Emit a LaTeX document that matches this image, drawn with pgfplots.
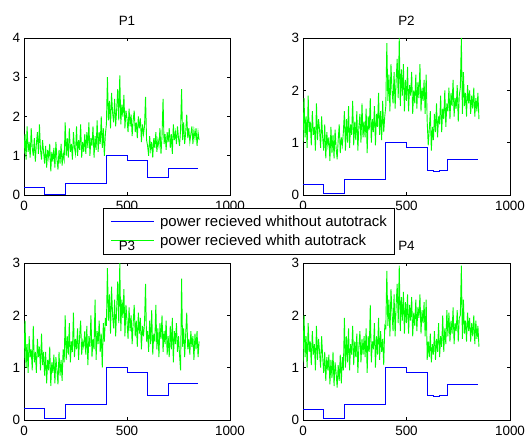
\documentclass[border=0pt]{standalone}
\usepackage{pgfplots}
\pgfplotsset{compat=1.18}
\usepackage{pgfplotstable}
\usepackage{fontspec}
\setmainfont{Liberation Sans}
\definecolor{mgreen}{RGB}{0,255,0}
\definecolor{mblue}{RGB}{0,0,255}

\pgfplotstableread[row sep=\\]{y\\
1.05\\1.55\\0.9\\1.75\\1.1\\1.35\\0.95\\1.7\\1.2\\1.0\\1.45\\0.85\\1.3\\1.6\\1.05\\1.8\\1.15\\0.9\\1.4\\1.1\\
0.8\\1.25\\0.7\\1.15\\0.95\\1.3\\0.6\\1.1\\0.85\\1.2\\0.7\\1.35\\0.9\\0.65\\1.15\\0.8\\1.3\\0.75\\1.05\\0.9\\
1.85\\1.0\\1.45\\0.95\\1.7\\1.1\\1.3\\0.9\\1.6\\1.2\\1.05\\1.75\\1.0\\1.4\\1.15\\1.8\\0.95\\1.35\\1.1\\1.55\\
1.05\\1.6\\1.2\\1.85\\1.0\\1.45\\1.25\\1.75\\0.95\\1.5\\1.15\\1.9\\1.1\\1.6\\1.3\\2.0\\1.2\\1.7\\1.0\\1.55\\
1.8\\3.0\\1.9\\2.4\\1.7\\2.6\\2.1\\1.85\\2.45\\1.75\\2.2\\2.7\\1.9\\3.05\\1.8\\2.3\\2.0\\2.55\\1.7\\2.15\\
1.95\\1.6\\2.2\\1.75\\2.05\\1.5\\1.9\\2.15\\1.6\\1.85\\1.45\\2.0\\1.7\\1.95\\1.35\\1.8\\1.55\\1.75\\2.5\\1.4\\
1.25\\1.0\\1.5\\1.15\\1.35\\0.95\\1.45\\1.2\\1.6\\1.1\\1.4\\1.25\\1.7\\1.05\\1.5\\2.45\\1.3\\1.55\\1.15\\1.6\\
1.35\\1.7\\1.2\\1.55\\1.05\\1.8\\1.4\\1.6\\1.3\\1.75\\1.45\\1.25\\1.65\\2.7\\1.4\\1.85\\1.3\\1.6\\2.05\\1.45\\
1.7\\1.35\\1.55\\1.75\\1.3\\1.65\\1.45\\1.7\\1.25\\1.6\\1.4\\
}\tabA

\pgfplotstableread[row sep=\\]{y\\
1.0\\1.85\\1.1\\1.5\\0.9\\1.9\\1.2\\1.4\\0.95\\1.6\\1.15\\1.3\\0.85\\1.75\\1.05\\1.45\\1.25\\0.9\\1.5\\1.1\\
0.85\\1.35\\0.7\\1.2\\0.95\\1.1\\0.65\\1.3\\0.8\\1.15\\0.7\\1.25\\0.9\\0.68\\1.05\\1.35\\0.8\\1.1\\0.95\\1.2\\
1.6\\0.85\\1.45\\1.0\\1.7\\0.9\\1.35\\1.15\\1.8\\0.95\\1.4\\1.05\\1.6\\0.85\\1.3\\1.55\\1.0\\1.75\\1.1\\1.4\\
1.1\\1.65\\0.8\\1.5\\1.25\\1.85\\1.0\\1.45\\1.2\\1.7\\0.95\\1.55\\1.3\\1.95\\1.15\\1.6\\1.05\\1.8\\1.2\\1.5\\
1.7\\2.9\\1.8\\2.3\\1.6\\2.5\\2.0\\1.75\\2.35\\1.65\\2.2\\2.6\\1.85\\3.0\\1.7\\2.4\\1.9\\2.5\\1.6\\2.2\\
1.8\\2.45\\1.6\\2.1\\1.9\\2.35\\1.55\\2.0\\1.75\\2.3\\1.65\\2.15\\1.85\\2.5\\1.6\\2.05\\1.8\\2.2\\1.55\\2.3\\
1.4\\0.95\\1.25\\1.6\\0.85\\1.3\\1.05\\1.55\\1.2\\1.75\\1.1\\1.5\\1.35\\1.9\\1.2\\1.65\\1.45\\2.0\\1.3\\1.75\\
1.6\\2.05\\1.45\\1.95\\1.7\\2.2\\1.5\\1.85\\1.65\\2.1\\1.4\\1.9\\2.05\\3.0\\1.55\\2.35\\1.7\\1.95\\1.5\\2.1\\
1.75\\2.0\\1.55\\1.9\\1.65\\2.05\\1.5\\1.85\\1.6\\1.95\\1.45\\
}\tabB

\pgfplotstableread[row sep=\\]{y\\
1.15\\1.9\\1.0\\1.45\\0.9\\1.6\\1.2\\1.35\\0.95\\1.8\\1.1\\1.3\\0.9\\1.55\\1.2\\1.4\\0.95\\1.65\\1.05\\1.3\\
0.85\\1.3\\0.7\\1.15\\0.95\\1.4\\0.65\\1.1\\0.9\\1.25\\0.7\\1.2\\0.95\\0.68\\1.3\\0.85\\1.15\\0.75\\1.35\\1.1\\
2.0\\1.15\\1.6\\1.25\\1.85\\1.1\\1.5\\1.3\\2.05\\1.2\\1.55\\1.35\\1.75\\1.15\\1.6\\1.9\\1.25\\1.5\\1.4\\1.7\\
1.25\\1.8\\1.05\\1.6\\1.4\\2.0\\1.2\\1.55\\1.35\\2.3\\1.15\\1.7\\1.45\\1.9\\1.3\\1.65\\1.0\\1.85\\1.5\\1.95\\
1.8\\2.9\\1.9\\2.4\\1.65\\2.55\\2.0\\1.75\\2.3\\1.6\\2.15\\2.65\\1.85\\3.0\\1.7\\2.3\\1.95\\2.5\\1.6\\2.2\\
1.9\\1.55\\2.15\\1.7\\2.0\\1.45\\1.85\\2.2\\1.6\\1.9\\1.4\\2.05\\1.65\\1.95\\1.35\\1.8\\1.6\\1.85\\2.6\\1.5\\
1.7\\1.3\\1.9\\1.45\\2.1\\1.25\\1.65\\1.5\\2.2\\1.35\\1.75\\1.2\\1.85\\1.55\\2.0\\1.3\\1.7\\1.45\\1.9\\1.25\\
1.6\\1.2\\1.8\\1.35\\1.95\\1.1\\1.7\\1.45\\1.85\\1.3\\1.6\\1.25\\0.95\\2.7\\1.4\\1.75\\1.2\\1.65\\2.05\\1.35\\
1.55\\1.25\\1.7\\1.4\\1.6\\1.15\\1.65\\1.35\\1.7\\1.2\\1.5\\
}\tabC

\pgfplotstableread[row sep=\\]{y\\
1.1\\2.0\\1.2\\1.6\\1.0\\1.85\\1.3\\1.5\\1.05\\1.7\\1.25\\1.45\\0.95\\1.8\\1.15\\1.55\\1.3\\1.0\\1.6\\1.2\\
0.9\\1.3\\0.75\\1.2\\0.95\\1.25\\0.68\\1.15\\0.8\\1.3\\0.65\\1.1\\0.9\\0.62\\1.05\\0.75\\1.25\\0.7\\1.2\\0.95\\
1.95\\1.0\\1.6\\1.1\\1.75\\0.95\\1.45\\1.25\\1.8\\1.05\\1.5\\1.2\\1.65\\0.9\\1.4\\1.7\\1.1\\1.55\\1.25\\1.6\\
1.2\\1.75\\0.9\\1.6\\1.3\\2.2\\1.1\\1.5\\1.35\\1.85\\1.0\\1.6\\1.25\\1.95\\1.15\\1.7\\1.3\\1.55\\1.05\\1.8\\
1.75\\2.85\\1.8\\2.3\\1.6\\2.5\\2.05\\1.7\\2.4\\1.6\\2.2\\2.6\\1.85\\2.95\\1.7\\2.35\\1.9\\2.45\\1.65\\2.25\\
1.85\\2.4\\1.65\\2.2\\1.9\\2.35\\1.6\\2.05\\1.8\\2.3\\1.7\\2.15\\1.95\\2.4\\1.65\\2.1\\1.85\\2.25\\1.6\\2.3\\
1.15\\1.5\\1.2\\1.65\\1.1\\1.45\\1.25\\1.7\\1.15\\1.55\\1.3\\1.85\\1.2\\1.6\\1.4\\2.0\\1.3\\1.75\\1.45\\2.1\\
1.6\\2.05\\1.5\\1.9\\1.65\\2.15\\1.45\\1.85\\1.7\\2.1\\1.5\\1.95\\2.0\\2.95\\1.55\\2.3\\1.65\\1.9\\1.5\\2.05\\
1.7\\1.95\\1.5\\1.85\\1.6\\2.0\\1.45\\1.9\\1.55\\1.8\\1.4\\
}\tabD

\pgfplotsset{
  mstyle/.style={
    scale only axis, height=157bp,
    xmin=0, xmax=1000, ymin=0,
    xtick={0,500,1000},
    tick align=inside, major tick length=3bp,
    axis line style={line width=0.7bp},
    tick style={line width=0.7bp, black},
    /pgf/number format/assume math mode=true,
    /pgf/number format/1000 sep={},
    ticklabel style={font=\fontsize{13.5}{16}\selectfont},
    xticklabel style={yshift=-2.5bp},
    yticklabel style={xshift=-0.5bp},
    title style={font=\fontsize{13.5}{16}\selectfont, at={(0.5,1)}, anchor=base, yshift=7bp},
    legend image code/.code={\path (0bp,0bp); \draw[#1] (2bp,0bp) -- (45bp,0bp);},
  },
  bstyle/.style={draw=mblue, line width=1bp, const plot},
  gstyle/.style={draw=mgreen, line width=0.9bp},
}

\begin{document}
\begin{tikzpicture}
\begin{axis}[mstyle, at={(24bp,247bp)}, anchor=south west, width=206bp, ymax=4, ytick={0,1,2,3,4}, title={P1}]
\addplot[gstyle] table[x expr=\coordindex*5, y=y]{\tabA};
\addplot[bstyle] coordinates {(0,0.19) (100,0.025) (200,0.29) (400,1.0) (500,0.885) (600,0.45) (700,0.68) (846,0.68)};
\end{axis}

\begin{axis}[mstyle, at={(303bp,247bp)}, anchor=south west, width=207bp, ymax=3, ytick={0,1,2,3}, title={P2},
  legend cell align=left,
  legend style={at={(-0.9662,-0.0828)}, anchor=north west, draw=black, line width=0.7bp, fill=white,
    font=\fontsize{15}{18}\selectfont, inner xsep=5bp, inner ysep=5bp, row sep=3bp,
    /tikz/every odd column/.append style={column sep=3.8bp}}]
\addplot[bstyle] coordinates {(0,0.21) (100,0.02) (200,0.3) (400,1.0) (500,0.9) (600,0.46) (630,0.45) (660,0.46) (700,0.68) (846,0.68)};
\addplot[gstyle] table[x expr=\coordindex*5, y=y]{\tabB};
\addplot[bstyle, forget plot] coordinates {(0,0.21) (100,0.02) (200,0.3) (400,1.0) (500,0.9) (600,0.46) (630,0.45) (660,0.46) (700,0.68) (846,0.68)};
\legend{power recieved whithout autotrack, power recieved whith autotrack}
\end{axis}

\begin{axis}[mstyle, at={(24bp,22bp)}, anchor=south west, width=206bp, ymax=3, ytick={0,1,2,3}, title={P3}]
\addplot[gstyle] table[x expr=\coordindex*5, y=y]{\tabC};
\addplot[bstyle] coordinates {(0,0.215) (100,0.02) (200,0.3) (400,1.0) (500,0.9) (600,0.47) (630,0.46) (660,0.47) (700,0.69) (846,0.69)};
\end{axis}

\begin{axis}[mstyle, at={(303bp,22bp)}, anchor=south west, width=207bp, ymax=3, ytick={0,1,2,3}, title={P4}]
\addplot[gstyle] table[x expr=\coordindex*5, y=y]{\tabD};
\addplot[bstyle] coordinates {(0,0.21) (100,0.02) (200,0.29) (400,1.0) (500,0.9) (600,0.46) (630,0.45) (660,0.46) (700,0.68) (846,0.68)};
\end{axis}

\pgfresetboundingbox
\path (0bp,0bp) rectangle (526bp,442bp);
\end{tikzpicture}
\end{document}
